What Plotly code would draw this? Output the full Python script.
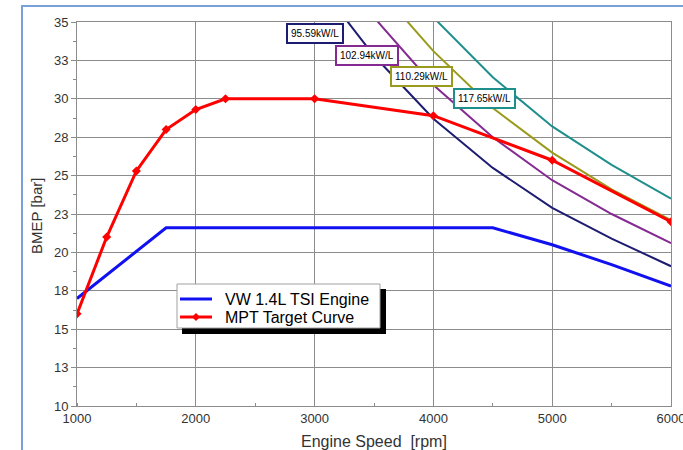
import plotly.graph_objects as go

# ---- data ----
rpm_vw = [1000, 1750, 4500, 5000, 5500, 6000]
bmep_vw = [17.0, 21.6, 21.6, 20.5, 19.2, 17.8]

rpm_mpt = [1000, 1250, 1500, 1750, 2000, 2250, 3000, 4000, 5000, 6000]
bmep_mpt = [16.0, 21.0, 25.3, 28.0, 29.3, 30.0, 30.0, 28.9, 26.0, 22.0]

rpm_p1 = [3250, 3500, 4000, 4500, 5000, 5500, 6000]
bmep_p1 = [35.3, 32.8, 28.7, 25.5, 22.9, 20.9, 19.1]
rpm_p2 = [3500, 4000, 4500, 5000, 5500, 6000]
bmep_p2 = [35.3, 30.9, 27.5, 24.7, 22.5, 20.6]
rpm_p3 = [3750, 4000, 4500, 5000, 5500, 6000]
bmep_p3 = [35.3, 33.1, 29.4, 26.5, 24.1, 22.1]
rpm_p4 = [4000, 4500, 5000, 5500, 6000]
bmep_p4 = [35.3, 31.4, 28.2, 25.7, 23.5]

power_labels = ["95.59kW/L", "102.94kW/L", "110.29kW/L", "117.65kW/L"]
label_x = [3000, 3440, 3900, 4430]
label_y = [34.28, 32.85, 31.45, 30.05]

series_names = ["VW 1.4L TSI Engine", "MPT Target Curve"]

y_tickvals = [10, 12.5, 15, 17.5, 20, 22.5, 25, 27.5, 30, 32.5, 35]
y_ticktext = ["10", "13", "15", "18", "20", "23", "25", "28", "30", "33", "35"]
x_tickvals = [1000, 2000, 3000, 4000, 5000, 6000]

power_colors = ["#1c1c72", "#842a92", "#9a9a1c", "#1f8f8c"]
vw_color = "#1010f0"
mpt_color = "#ff0000"

# ---- geometry (pixels) ----
W, H = 683, 450
L, R, T, B = 77, 671, 22, 406
pw, ph = R - L, B - T


def px(x):
    return (x - L) / pw


def py(y):
    return (B - y) / ph


FONT = "Liberation Sans, Arial"

fig = go.Figure()

for rx, ry, c in zip([rpm_p1, rpm_p2, rpm_p3, rpm_p4],
                     [bmep_p1, bmep_p2, bmep_p3, bmep_p4], power_colors):
    fig.add_trace(go.Scatter(x=rx, y=ry, mode="lines",
                             line=dict(color=c, width=2), showlegend=False,
                             hoverinfo="skip"))

fig.add_trace(go.Scatter(x=rpm_vw, y=bmep_vw, mode="lines",
                         name=series_names[0], showlegend=False,
                         line=dict(color=vw_color, width=3)))
fig.add_trace(go.Scatter(x=rpm_mpt, y=bmep_mpt, mode="lines+markers",
                         name=series_names[1], showlegend=False,
                         line=dict(color=mpt_color, width=3),
                         marker=dict(symbol="diamond", size=7, color=mpt_color)))

annotations = []
for t, x, y, c in zip(power_labels, label_x, label_y, power_colors):
    annotations.append(dict(x=x, y=y, xref="x", yref="y", text=t,
                            showarrow=False, bgcolor="white",
                            bordercolor=c, borderwidth=2, borderpad=3,
                            font=dict(family=FONT, size=10, color="black")))

annotations.append(dict(x=px(37), y=py(216), xref="paper", yref="paper",
                        xanchor="center", yanchor="middle",
                        text="BMEP [bar]", textangle=-90, showarrow=False,
                        font=dict(family=FONT, size=15, color="#333333")))
annotations.append(dict(x=px(374), y=py(441), xref="paper", yref="paper",
                        xanchor="center", yanchor="middle",
                        text="Engine Speed \u00a0[rpm]", showarrow=False,
                        font=dict(family=FONT, size=16, color="#333333")))

# ---- legend drawn as a boxed key with drop shadow ----
leg_x0, leg_y0, leg_x1, leg_y1 = 177, 284, 380, 328
row_y = [299, 317]
key_x0, key_x1, text_x = 180, 212, 223

shapes = [
    # outer light-blue frame
    dict(type="rect", xref="paper", yref="paper",
         x0=px(22), x1=px(700), y0=py(6), y1=py(470),
         line=dict(color="#7aa0dc", width=2), fillcolor="rgba(0,0,0,0)",
         layer="below"),
    # legend shadow
    dict(type="rect", xref="paper", yref="paper",
         x0=px(leg_x0 + 5), x1=px(leg_x1 + 6), y0=py(leg_y0 + 5), y1=py(leg_y1 + 6),
         line=dict(width=0), fillcolor="black", layer="above"),
    # legend box
    dict(type="rect", xref="paper", yref="paper",
         x0=px(leg_x0), x1=px(leg_x1), y0=py(leg_y0), y1=py(leg_y1),
         line=dict(color="#a0a0a0", width=1), fillcolor="white", layer="above"),
]
for yy, c in zip(row_y, [vw_color, mpt_color]):
    shapes.append(dict(type="line", xref="paper", yref="paper",
                       x0=px(key_x0), x1=px(key_x1), y0=py(yy), y1=py(yy),
                       line=dict(color=c, width=3), layer="above"))
cx, cy, d = (key_x0 + key_x1) / 2, row_y[1], 4
shapes.append(dict(type="path", xref="paper", yref="paper",
                   path=(f"M {px(cx)},{py(cy - d)} L {px(cx + d)},{py(cy)} "
                         f"L {px(cx)},{py(cy + d)} L {px(cx - d)},{py(cy)} Z"),
                   fillcolor=mpt_color, line=dict(width=0), layer="above"))
for yy, name in zip(row_y, series_names):
    annotations.append(dict(x=px(text_x), y=py(yy), xref="paper", yref="paper",
                            xanchor="left", yanchor="middle", text=name,
                            showarrow=False,
                            font=dict(family=FONT, size=16, color="black")))

axis_font = dict(family=FONT, size=13, color="#333333")

fig.update_layout(
    width=W, height=H,
    margin=dict(l=L, r=W - R, t=T, b=H - B, autoexpand=False),
    paper_bgcolor="white", plot_bgcolor="white",
    showlegend=False,
    xaxis=dict(range=[1000, 6000], tickvals=x_tickvals,
               showgrid=True, gridcolor="#8c8c8c", gridwidth=1,
               showline=True, linecolor="#8c8c8c", linewidth=1, mirror=True,
               ticks="", tickfont=axis_font, zeroline=False, automargin=False,
               ticklabeloverflow="allow",
               minor=dict(dtick=500, tick0=1000, ticks="inside", ticklen=3,
                          tickcolor="#8c8c8c", showgrid=False)),
    yaxis=dict(range=[10, 35], tickvals=y_tickvals, ticktext=y_ticktext,
               showgrid=True, gridcolor="#8c8c8c", gridwidth=1,
               showline=True, linecolor="#8c8c8c", linewidth=1, mirror=True,
               ticks="outside", ticklen=5, tickcolor="#8c8c8c",
               tickfont=axis_font, zeroline=False, automargin=False,
               minor=dict(dtick=1.25, tick0=10, ticks="outside", ticklen=3,
                          tickcolor="#8c8c8c", showgrid=False)),
    annotations=annotations,
    shapes=shapes,
)

fig.write_html("out.html")
